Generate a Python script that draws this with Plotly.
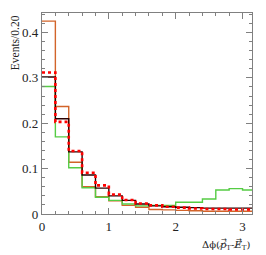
import plotly.graph_objects as go

bin_edges = [0.0, 0.2, 0.4, 0.6, 0.8, 1.0, 1.2, 1.4, 1.6, 1.8, 2.0, 2.2, 2.4, 2.6, 2.8, 3.0, 3.2]

orange_vals = [0.425, 0.237, 0.114, 0.060, 0.038, 0.029, 0.019, 0.015, 0.010, 0.009, 0.008, 0.007, 0.006, 0.006, 0.006, 0.006]
green_vals = [0.281, 0.170, 0.102, 0.058, 0.037, 0.030, 0.022, 0.018, 0.019, 0.019, 0.026, 0.026, 0.033, 0.053, 0.056, 0.053]
black_vals = [0.302, 0.210, 0.137, 0.086, 0.057, 0.040, 0.030, 0.022, 0.018, 0.016, 0.015, 0.014, 0.013, 0.013, 0.013, 0.013]
red_vals = [0.312, 0.203, 0.139, 0.091, 0.063, 0.043, 0.031, 0.023, 0.019, 0.016, 0.014, 0.012, 0.011, 0.011, 0.010, 0.010]

y_title = "Events/0.20"
x_title = "Δϕ(<i>p̸</i><sub>T</sub>-<i>E̸</i><sub>T</sub>)"
vec_mark = "→"

FONT = "Liberation Serif"

def step(vals, color, width, dash="solid"):
    return go.Scatter(
        x=bin_edges, y=vals + [vals[-1]], mode="lines",
        line=dict(shape="hv", color=color, width=width, dash=dash),
        hoverinfo="skip", showlegend=False)

fig = go.Figure()
fig.add_trace(step(orange_vals, "#d2642a", 1.4))
fig.add_trace(step(green_vals, "#55cc44", 1.4))
fig.add_trace(step(black_vals, "#2a0000", 1.4))
fig.add_trace(step(red_vals, "#ff0000", 2.6, "dot"))

axis_common = dict(
    showline=True, linecolor="#808080", linewidth=1.2, mirror="ticks",
    ticks="inside", tickcolor="#808080", showgrid=False, zeroline=False,
    tickfont=dict(family=FONT, size=13, color="#222"),
)
fig.update_xaxes(
    range=[0, 3.1416], tickvals=[0, 1, 2, 3], ticktext=["0", "1", "2", "3"], ticklen=6,
    minor=dict(ticks="inside", dtick=0.2, tick0=0, ticklen=3, tickcolor="#808080"),
    ticklabelstandoff=0,
    **axis_common)
fig.update_yaxes(
    range=[0, 0.443], tickvals=[0, 0.1, 0.2, 0.3, 0.4], ticktext=["0", "0.1", "0.2", "0.3", "0.4"], ticklen=6,
    minor=dict(ticks="inside", dtick=0.02, tick0=0, ticklen=3, tickcolor="#808080"),
    ticklabelstandoff=0,
    **axis_common)

fig.add_annotation(text=y_title, xref="paper", yref="paper", x=-0.13, y=1.0,
                   xanchor="center", yanchor="top", textangle=-90, showarrow=False,
                   font=dict(family=FONT, size=11.5, color="#222"))
fig.add_annotation(text=x_title, xref="paper", yref="paper", x=1.0, y=-0.115,
                   xanchor="right", yanchor="top", showarrow=False,
                   font=dict(family="DejaVu Serif", size=10, color="#222"))
for shift in (-13, -28):
    fig.add_annotation(text=vec_mark, xref="paper", yref="paper", x=1.0, y=-0.1,
                       xanchor="center", yanchor="top", xshift=shift, showarrow=False,
                       font=dict(family="DejaVu Sans", size=7, color="#222"))

fig.update_layout(
    width=258, height=247, margin=dict(l=34, r=14, t=5, b=41),
    plot_bgcolor="white", paper_bgcolor="white",
)
fig.write_html("out.html")
